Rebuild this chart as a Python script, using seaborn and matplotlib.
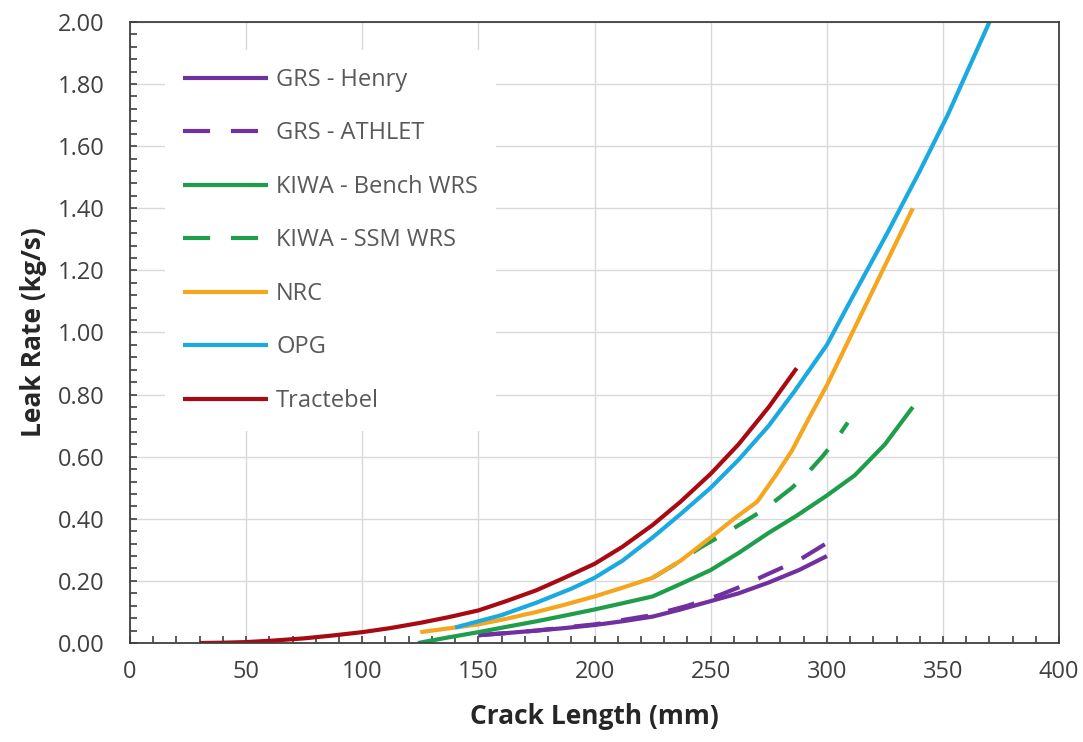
import matplotlib
matplotlib.use("Agg")
import matplotlib.pyplot as plt
from matplotlib.ticker import MultipleLocator, FormatStrFormatter
import seaborn as sns
import pandas as pd

# Leak rate (kg/s) versus crack length (mm) for each participant
grs_henry_x = [150, 162, 175, 187, 200, 212, 225, 237, 250, 262, 275, 288, 300]
grs_henry_y = [0.025, 0.032, 0.040, 0.048, 0.058, 0.070, 0.085, 0.108, 0.135, 0.160,
               0.195, 0.235, 0.280]

grs_athlet_x = [150, 162, 175, 187, 200, 212, 225, 240, 254, 264, 274, 288, 300]
grs_athlet_y = [0.025, 0.032, 0.040, 0.050, 0.060, 0.074, 0.090, 0.120, 0.155, 0.185,
                0.220, 0.267, 0.322]

kiwa_bench_x = [124, 137, 150, 162, 175, 187, 200, 212, 225, 237, 250, 262, 275, 287,
                300, 312, 325, 337]
kiwa_bench_y = [0.000, 0.018, 0.035, 0.052, 0.070, 0.088, 0.108, 0.128, 0.150, 0.190,
                0.235, 0.290, 0.355, 0.410, 0.475, 0.540, 0.640, 0.760]

kiwa_ssm_x = [225, 235, 245, 260, 273, 285, 292, 298, 304, 309]
kiwa_ssm_y = [0.210, 0.255, 0.305, 0.370, 0.430, 0.500, 0.550, 0.600, 0.655, 0.710]

nrc_x = [125, 137, 150, 162, 175, 187, 200, 212, 225, 237, 250, 260, 270, 278, 285, 292,
         300, 311, 324, 337]
nrc_y = [0.035, 0.047, 0.060, 0.078, 0.100, 0.123, 0.150, 0.178, 0.210, 0.265, 0.340,
         0.400, 0.455, 0.540, 0.620, 0.720, 0.830, 1.000, 1.200, 1.400]

opg_x = [140, 150, 160, 175, 190, 200, 212, 225, 237, 250, 262, 275, 286, 300, 310, 318,
         326, 333, 340, 346, 352, 358, 364, 370]
opg_y = [0.050, 0.070, 0.090, 0.130, 0.175, 0.210, 0.265, 0.340, 0.415, 0.500, 0.590,
         0.700, 0.810, 0.960, 1.100, 1.210, 1.320, 1.420, 1.520, 1.610, 1.700, 1.800,
         1.900, 2.000]

tractebel_x = [30, 40, 50, 62, 75, 87, 100, 112, 125, 137, 150, 162, 175, 187, 200, 212,
               225, 237, 250, 262, 275, 287]
tractebel_y = [0.000, 0.001, 0.003, 0.008, 0.015, 0.024, 0.035, 0.048, 0.065, 0.083,
               0.105, 0.135, 0.170, 0.210, 0.255, 0.310, 0.380, 0.455, 0.545, 0.640,
               0.760, 0.885]

series_names = ["GRS - Henry", "GRS - ATHLET", "KIWA - Bench WRS", "KIWA - SSM WRS",
                "NRC", "OPG", "Tractebel"]
series_x = [grs_henry_x, grs_athlet_x, kiwa_bench_x, kiwa_ssm_x, nrc_x, opg_x, tractebel_x]
series_y = [grs_henry_y, grs_athlet_y, kiwa_bench_y, kiwa_ssm_y, nrc_y, opg_y, tractebel_y]
series_colors = ["#7030A0", "#7030A0", "#1E9E4A", "#1E9E4A", "#F5A51E", "#1AAAE0", "#A80A14"]
series_dashed = [False, True, False, True, False, False, False]

sns.set_theme(style="whitegrid")
plt.rcParams["font.family"] = ["Open Sans", "DejaVu Sans"]

fig = plt.figure(figsize=(10.83, 7.42), dpi=100)
ax = fig.add_axes([0.120, 0.1334, 0.858, 0.837])

for name, xs, ys, color, dashed in zip(series_names, series_x, series_y,
                                       series_colors, series_dashed):
    df = pd.DataFrame({"Crack Length (mm)": xs, "Leak Rate (kg/s)": ys})
    sns.lineplot(data=df, x="Crack Length (mm)", y="Leak Rate (kg/s)", ax=ax,
                 color=color, lw=3.0, label=name, sort=False, estimator=None)
    line = ax.lines[-1]
    line.set_solid_capstyle("butt")
    line.set_solid_joinstyle("round")
    if dashed:
        line.set_dashes([6.5, 5])

ax.set_xlim(0, 400)
ax.set_ylim(0, 2.0)
ax.xaxis.set_major_locator(MultipleLocator(50))
ax.xaxis.set_minor_locator(MultipleLocator(10))
ax.yaxis.set_major_locator(MultipleLocator(0.2))
ax.yaxis.set_minor_locator(MultipleLocator(0.04))
ax.yaxis.set_major_formatter(FormatStrFormatter("%.2f"))

ax.set_facecolor("white")
ax.grid(True, which="major", color="#D9D9D9", lw=1.0)
ax.grid(False, which="minor")
for side in ["left", "right", "top", "bottom"]:
    ax.spines[side].set_visible(True)
    ax.spines[side].set_color("#404040")
    ax.spines[side].set_linewidth(1.3)

ax.tick_params(which="both", direction="in", color="#404040", width=1.2,
               bottom=True, left=True, top=False, right=False)
ax.tick_params(which="major", length=5, labelsize=17, labelcolor="#404040")
ax.tick_params(which="minor", length=5)
ax.tick_params(axis="x", which="major", pad=12)
ax.tick_params(axis="y", which="major", pad=18)

ax.set_xlabel("Crack Length (mm)", fontsize=19, fontweight="bold", color="#262626",
              labelpad=14)
ax.set_ylabel("Leak Rate (kg/s)", fontsize=19, fontweight="bold", color="#262626",
              labelpad=8)

leg = ax.legend(loc="upper left", bbox_to_anchor=(0.038, 0.955), borderaxespad=0,
                frameon=True, fancybox=False, framealpha=1, facecolor="white",
                edgecolor="none", fontsize=17, handlelength=3.6, handletextpad=0.34,
                labelspacing=1.25, borderpad=0.76)
for t in leg.get_texts():
    t.set_color("#595959")

fig.savefig("out.png", dpi=100)
